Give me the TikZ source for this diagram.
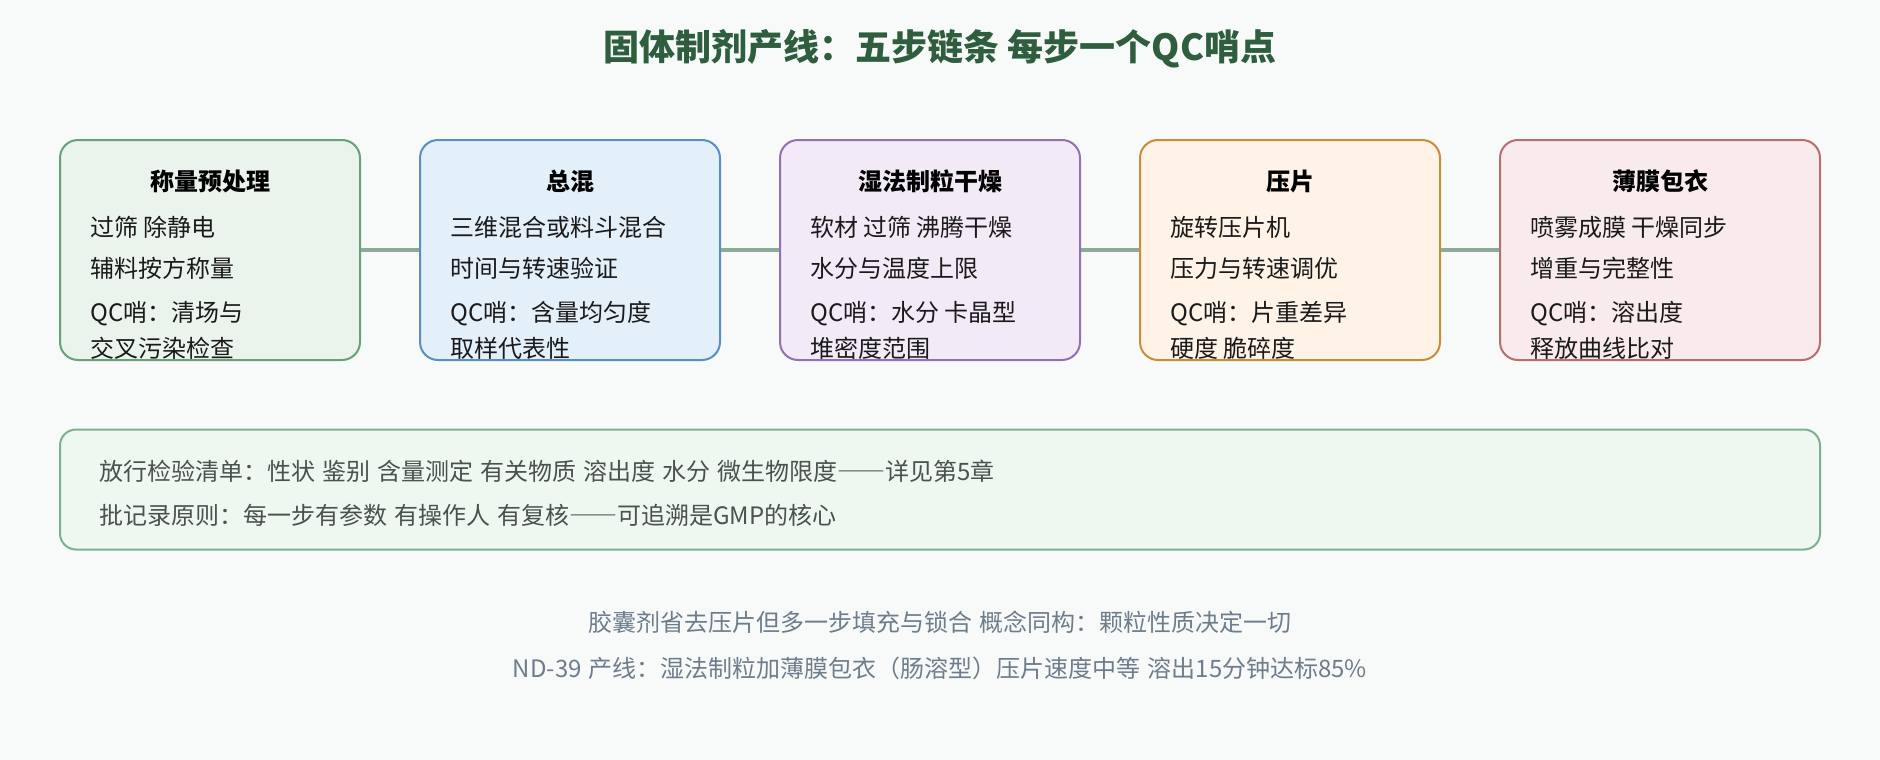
\documentclass[tikz,border=0pt]{standalone}
\usepackage{fontspec}
\setmainfont{Noto Sans CJK SC}
\definecolor{bgc}{HTML}{F8FAF9}
\definecolor{titlec}{HTML}{2E5E3E}
\definecolor{linkc}{HTML}{8CAA98}
\definecolor{fA}{HTML}{EAF4EC}\definecolor{dA}{HTML}{66A27A}
\definecolor{fB}{HTML}{E3EFF9}\definecolor{dB}{HTML}{5A8FC0}
\definecolor{fC}{HTML}{F3EAF8}\definecolor{dC}{HTML}{9370B5}
\definecolor{fD}{HTML}{FEF3E6}\definecolor{dD}{HTML}{C98C3C}
\definecolor{fE}{HTML}{F9EBED}\definecolor{dE}{HTML}{B86E6E}
\definecolor{fP}{HTML}{EEF7F0}\definecolor{dP}{HTML}{7DB290}
\definecolor{bodyc}{HTML}{1A1A1A}
\definecolor{panelc}{HTML}{4A524E}
\definecolor{footc}{HTML}{6E7D8C}
\newcommand{\mywidesp}{\spaceskip=7pt plus 1pt\relax}
\newcommand{\mydash}{{\addfontfeature{RawFeature=+fwid}——}}
\tikzset{
  stepbox/.style={rectangle, rounded corners=18pt, line width=2pt, minimum height=220pt, inner sep=0pt},
  boxtitle/.style={anchor=base, inner sep=0pt, font=\fontsize{24}{24}\selectfont\bfseries, text=black},
  boxline/.style={anchor=base west, inner sep=0pt, font=\fontsize{24}{24}\selectfont, text=bodyc},
  panelline/.style={anchor=base west, inner sep=0pt, font=\fontsize{24}{24}\selectfont\mywidesp, text=panelc},
  footline/.style={anchor=base, inner sep=0pt, font=\fontsize{24}{24}\selectfont\mywidesp, text=footc},
  link/.style={draw=linkc, line width=3.5pt},
}
\begin{document}
\begin{tikzpicture}[x=1pt,y=-1pt]
\fill[bgc] (0,0) rectangle (1880,760);
\useasboundingbox (0,0) rectangle (1880,760);
\node[anchor=base, inner sep=0pt, font=\fontsize{36}{36}\selectfont\bfseries, text=titlec] (title) at (940,61) {固体制剂产线：五步链条 每步一个QC哨点};
% boxes
\node[stepbox, minimum width=300pt, fill=fA, draw=dA] (b1) at (210,250) {};
\node[stepbox, minimum width=300pt, fill=fB, draw=dB] (b2) at (570,250) {};
\node[stepbox, minimum width=300pt, fill=fC, draw=dC] (b3) at (930,250) {};
\node[stepbox, minimum width=300pt, fill=fD, draw=dD] (b4) at (1290,250) {};
\node[stepbox, minimum width=320pt, fill=fE, draw=dE] (b5) at (1660,250) {};
\draw[link] (b1.east) -- (b2.west);
\draw[link] (b2.east) -- (b3.west);
\draw[link] (b3.east) -- (b4.west);
\draw[link] (b4.east) -- (b5.west);
% box 1
\node[boxtitle] (t1) at (210,190) {称量预处理};
\node[boxline] (t1a) at (90,236) {过筛 除静电};
\node[boxline] (t1b) at (90,277) {辅料按方称量};
\node[boxline] (t1c) at (90,321) {QC哨：清场与};
\node[boxline] (t1d) at (90,357) {交叉污染检查};
% box 2
\node[boxtitle] (t2) at (570,190) {总混};
\node[boxline] (t2a) at (450,236) {三维混合或料斗混合};
\node[boxline] (t2b) at (450,277) {时间与转速验证};
\node[boxline] (t2c) at (450,321) {QC哨：含量均匀度};
\node[boxline] (t2d) at (450,357) {取样代表性};
% box 3
\node[boxtitle] (t3) at (930,190) {湿法制粒干燥};
\node[boxline] (t3a) at (810,236) {软材 过筛 沸腾干燥};
\node[boxline] (t3b) at (810,277) {水分与温度上限};
\node[boxline] (t3c) at (810,321) {QC哨：水分 卡晶型};
\node[boxline] (t3d) at (810,357) {堆密度范围};
% box 4
\node[boxtitle] (t4) at (1290,190) {压片};
\node[boxline] (t4a) at (1170,236) {旋转压片机};
\node[boxline] (t4b) at (1170,277) {压力与转速调优};
\node[boxline] (t4c) at (1170,321) {QC哨：片重差异};
\node[boxline] (t4d) at (1170,357) {硬度 脆碎度};
% box 5
\node[boxtitle] (t5) at (1660,190) {薄膜包衣};
\node[boxline] (t5a) at (1530,236) {喷雾成膜 干燥同步};
\node[boxline] (t5b) at (1530,277) {增重与完整性};
\node[boxline] (t5c) at (1530,321) {QC哨：溶出度};
\node[boxline] (t5d) at (1530,357) {释放曲线比对};
% panel
\node[rectangle, rounded corners=16pt, line width=2pt, fill=fP, draw=dP, minimum width=1760pt, minimum height=120pt, inner sep=0pt] (panel) at (940,489.5) {};
\node[panelline] (p1) at (99,480.5) {放行检验清单：性状 鉴别 含量测定 有关物质 溶出度 水分 微生物限度\mydash 详见第5章};
\node[panelline] (p2) at (99,524) {批记录原则：每一步有参数 有操作人 有复核\mydash 可追溯是GMP的核心};
% footer
\node[footline] (f1) at (940,631) {胶囊剂省去压片但多一步填充与锁合 概念同构：颗粒性质决定一切};
\node[footline] (f2) at (940,677) {ND-39 产线：湿法制粒加薄膜包衣（肠溶型）压片速度中等 溶出15分钟达标85\%};
\end{tikzpicture}
\end{document}
